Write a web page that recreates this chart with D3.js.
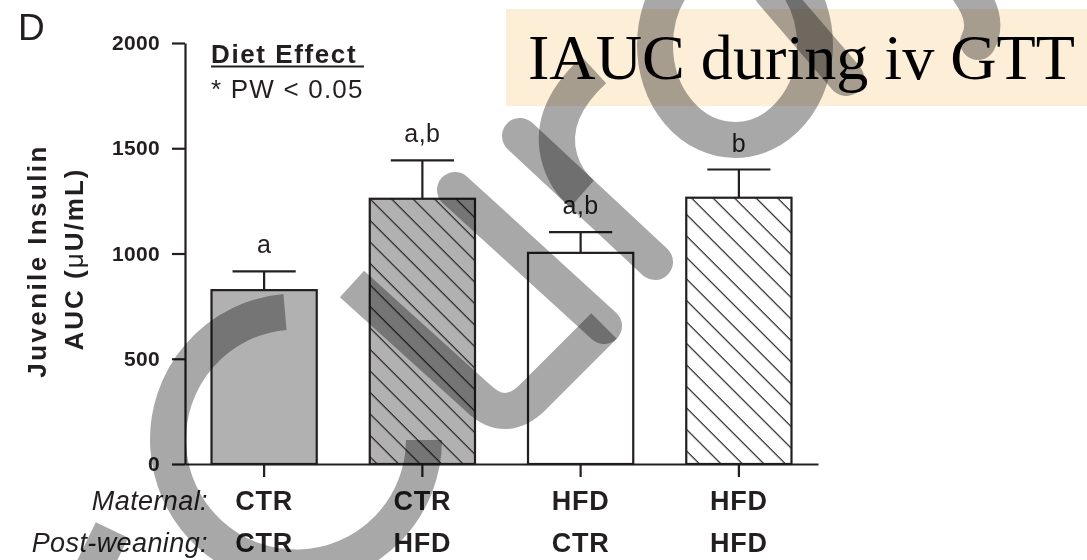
<!DOCTYPE html>
<html>
<head>
<meta charset="utf-8">
<script src="https://cdn.jsdelivr.net/npm/d3@7"></script>
<style>
  body { margin: 0; background: #fff; }
  svg text { font-family: "Liberation Sans", Arial, sans-serif; fill: #231f20; }
  .wm { fill: none; stroke: #a8a8a8; stroke-width: 36; mix-blend-mode: multiply; }
</style>
</head>
<body>
<div id="chart"></div>
<script>
// data
const groups = ["CTR/CTR", "CTR/HFD", "HFD/CTR", "HFD/HFD"];
const maternal = ["CTR", "CTR", "HFD", "HFD"];
const postWeaning = ["CTR", "HFD", "CTR", "HFD"];
const aucMean = [826, 1260, 1003, 1265];
const aucSem = [89, 182, 99, 134];
const letters = ["a", "a,b", "a,b", "b"];
const hatched = [false, true, false, true];
const grayFill = [true, true, false, false];
const yTicks = [0, 500, 1000, 1500, 2000];

const width = 1087, height = 560;
const margin = {top: 43, right: 269, bottom: 96, left: 185};

const svg = d3.select("#chart")
  .append("svg")
    .attr("width", width)
    .attr("height", height)
    .attr("xmlns", "http://www.w3.org/2000/svg");

const defs = svg.append("defs");
defs.append("pattern")
    .attr("id", "hatch")
    .attr("patternUnits", "userSpaceOnUse")
    .attr("width", 15.2)
    .attr("height", 15.2)
    .attr("patternTransform", "rotate(45)")
  .append("line")
    .attr("x1", 0).attr("y1", 0)
    .attr("x2", 15.2).attr("y2", 0)
    .attr("stroke", "#231f20")
    .attr("stroke-width", 2.4);

const x = d3.scaleBand()
  .domain(groups)
  .range([margin.left, width - margin.right])
  .paddingInner(0.335)
  .paddingOuter(0.1675);

const y = d3.scaleLinear()
  .domain([0, 2000])
  .range([height - margin.bottom, margin.top]);

const rows = groups.map(function (g, i) {
  return {g: g, mean: aucMean[i], sem: aucSem[i], letter: letters[i], hatch: hatched[i], gray: grayFill[i]};
});

// title box
svg.append("rect")
  .attr("x", 506).attr("y", 9)
  .attr("width", width - 506).attr("height", 97)
  .attr("fill", "#fdefd7");

svg.append("text")
  .attr("x", 528).attr("y", 79)
  .attr("textLength", 547)
  .attr("lengthAdjust", "spacingAndGlyphs")
  .style("font-family", "'Liberation Serif', 'Times New Roman', serif")
  .style("font-size", "63px")
  .style("fill", "#000")
  .text("IAUC during iv GTT");

// panel letter
svg.append("text")
  .attr("x", 18).attr("y", 40)
  .style("font-size", "37px")
  .text("D");

// bars
const bars = svg.append("g");
bars.selectAll("rect.bar")
  .data(rows)
  .enter()
  .append("rect")
    .attr("class", "bar")
    .attr("x", function (d) { return x(d.g); })
    .attr("y", function (d) { return y(d.mean); })
    .attr("width", x.bandwidth())
    .attr("height", function (d) { return y(0) - y(d.mean); })
    .attr("fill", function (d) { return d.gray ? "#b1b1b1" : "#fff"; });

bars.selectAll("rect.hatch")
  .data(rows.filter(function (d) { return d.hatch; }))
  .enter()
  .append("rect")
    .attr("class", "hatch")
    .attr("x", function (d) { return x(d.g); })
    .attr("y", function (d) { return y(d.mean); })
    .attr("width", x.bandwidth())
    .attr("height", function (d) { return y(0) - y(d.mean); })
    .attr("fill", "url(#hatch)");

bars.selectAll("rect.outline")
  .data(rows)
  .enter()
  .append("rect")
    .attr("class", "outline")
    .attr("x", function (d) { return x(d.g); })
    .attr("y", function (d) { return y(d.mean); })
    .attr("width", x.bandwidth())
    .attr("height", function (d) { return y(0) - y(d.mean); })
    .attr("fill", "none")
    .attr("stroke", "#231f20")
    .attr("stroke-width", 2.2);

// error bars (upper only)
const capHalf = x.bandwidth() * 0.3;
const err = svg.append("g")
  .attr("stroke", "#231f20")
  .attr("stroke-width", 2.2);

err.selectAll("line.stem")
  .data(rows)
  .enter()
  .append("line")
    .attr("x1", function (d) { return x(d.g) + x.bandwidth() / 2; })
    .attr("x2", function (d) { return x(d.g) + x.bandwidth() / 2; })
    .attr("y1", function (d) { return y(d.mean); })
    .attr("y2", function (d) { return y(d.mean + d.sem); });

err.selectAll("line.cap")
  .data(rows)
  .enter()
  .append("line")
    .attr("x1", function (d) { return x(d.g) + x.bandwidth() / 2 - capHalf; })
    .attr("x2", function (d) { return x(d.g) + x.bandwidth() / 2 + capHalf; })
    .attr("y1", function (d) { return y(d.mean + d.sem); })
    .attr("y2", function (d) { return y(d.mean + d.sem); });

svg.selectAll("text.letter")
  .data(rows)
  .enter()
  .append("text")
    .attr("class", "letter")
    .attr("x", function (d) { return x(d.g) + x.bandwidth() / 2; })
    .attr("y", function (d) { return y(d.mean + d.sem) - 18; })
    .attr("text-anchor", "middle")
    .style("font-size", "25px")
    .style("letter-spacing", "0.5px")
    .text(function (d) { return d.letter; });

// axes
const yAxis = svg.append("g")
  .attr("transform", "translate(" + margin.left + ",0)")
  .call(d3.axisLeft(y).tickValues(yTicks).tickSize(13).tickSizeOuter(0).tickPadding(12).tickFormat(d3.format("d")));

const xAxis = svg.append("g")
  .attr("transform", "translate(0," + y(0) + ")")
  .call(d3.axisBottom(x).tickSize(13).tickSizeOuter(0).tickFormat(""));

[yAxis, xAxis].forEach(function (a) {
  a.selectAll("path, line")
    .attr("stroke", "#231f20")
    .attr("stroke-width", 2.2);
});
yAxis.selectAll("text")
  .style("font-size", "21px")
  .style("font-weight", "bold")
  .style("letter-spacing", "0.3px")
  .style("fill", "#231f20");

// y title
svg.append("text")
  .attr("transform", "translate(46,261) rotate(-90)")
  .attr("text-anchor", "middle")
  .style("font-size", "26px")
  .style("font-weight", "bold")
  .style("letter-spacing", "2.4px")
  .text("Juvenile Insulin");

const yt2 = svg.append("text")
  .attr("transform", "translate(83,259) rotate(-90)")
  .attr("text-anchor", "middle")
  .style("font-size", "26px")
  .style("font-weight", "bold")
  .style("letter-spacing", "2px");
yt2.append("tspan").text("AUC (");
yt2.append("tspan").style("font-weight", "normal").text("\u03bc");
yt2.append("tspan").text("U/mL)");

// diet effect note
svg.append("text")
  .attr("x", 211).attr("y", 63)
  .style("font-size", "26px")
  .style("font-weight", "bold")
  .style("letter-spacing", "1.6px")
  .text("Diet Effect");
svg.append("line")
  .attr("x1", 211).attr("x2", 364)
  .attr("y1", 66.5).attr("y2", 66.5)
  .attr("stroke", "#231f20")
  .attr("stroke-width", 2);
svg.append("text")
  .attr("x", 211).attr("y", 98)
  .style("font-size", "26px")
  .style("letter-spacing", "1.2px")
  .text("* PW < 0.05");

// group labels under the axis
const rowLabels = [["Maternal:", maternal, 510], ["Post-weaning:", postWeaning, 552]];
rowLabels.forEach(function (r) {
  svg.append("text")
    .attr("x", 208).attr("y", r[2])
    .attr("text-anchor", "end")
    .style("font-size", "27px")
    .style("font-style", "italic")
    .style("letter-spacing", "0.4px")
    .text(r[0]);
  svg.selectAll(null)
    .data(r[1])
    .enter()
    .append("text")
      .attr("x", function (d, i) { return x(groups[i]) + x.bandwidth() / 2; })
      .attr("y", r[2])
      .attr("text-anchor", "middle")
      .style("font-size", "27px")
      .style("font-weight", "bold")
      .style("letter-spacing", "0.8px")
      .text(function (d) { return d; });
});

// grey scribble overlay on top of the figure
const wm = svg.append("g");
wm.append("path").attr("class", "wm")
  .attr("d", "M285,312 A128,128 0 1 0 424,440");
wm.append("path").attr("class", "wm")
  .attr("stroke-linejoin", "round")
  .attr("d", "M352,284 L478,398 Q505,424 532,398 L604,326");
wm.append("path").attr("class", "wm")
  .attr("stroke-linecap", "round")
  .attr("d", "M455,190 L604,326");
wm.append("path").attr("class", "wm")
  .attr("stroke-linecap", "round")
  .attr("d", "M520,136 L655,262");
wm.append("path").attr("class", "wm")
  .attr("d", "M594,70 Q546,114 560,160 Q566,180 582,194");
wm.append("ellipse").attr("class", "wm")
  .attr("cx", 735).attr("cy", 45)
  .attr("rx", 80).attr("ry", 95);
wm.append("path").attr("class", "wm")
  .attr("stroke-linecap", "round")
  .attr("d", "M772,-8 L846,78");
wm.append("path").attr("class", "wm")
  .attr("stroke-linecap", "round")
  .attr("stroke-width", 34)
  .attr("d", "M968,-10 Q990,20 978,42");
wm.append("path").attr("class", "wm")
  .attr("stroke-width", 46)
  .attr("d", "M112,530 L78,600");
</script>
</body>
</html>
